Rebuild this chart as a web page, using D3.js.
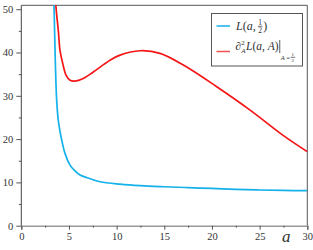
<!DOCTYPE html>
<html>
<head>
<meta charset="utf-8">
<script src="https://cdn.jsdelivr.net/npm/d3@7"></script>
<style>
  body { margin:0; background:#fff; }
  svg text { font-family: "Liberation Serif", "DejaVu Serif", serif; fill:#333; }
</style>
</head>
<body>
<div id="canvas"></div>
<script>
// values
var blueA = [3.30, 3.43, 3.55, 3.71, 3.88, 4.06, 4.24, 4.58, 5.11, 5.6, 6.16, 7.3, 8.26, 10.35, 12.5, 15, 17.5, 20, 22.5, 25, 27.5, 30];
var blueL = [62, 51, 39.5, 29, 24.3, 21.8, 19.8, 16.7, 14.0, 12.7, 11.7, 10.8, 10.15, 9.6, 9.25, 9.0, 8.8, 8.6, 8.4, 8.25, 8.15, 8.08];

var redA = [3.50, 3.62, 3.88, 4.06, 4.34, 4.69, 5.11, 5.63, 6.5, 7.55, 9.3, 10.36, 12.46, 14.55, 17.0, 20.5, 24.0, 27.5, 30];
var redL = [58, 51, 45.1, 40.5, 37.5, 34.8, 33.6, 33.4, 34.0, 35.5, 38.2, 39.4, 40.4, 39.8, 37.1, 32.1, 26.7, 20.8, 17.1];

var xMajor = [0, 5, 10, 15, 20, 25, 30];
var xMinor = [2.5, 7.5, 12.5, 17.5, 22.5, 27.5];
var yMajor = [0, 10, 20, 30, 40, 50];
var yMinor = [5, 15, 25, 35, 45];

var W = 313, H = 250;
var m = {t:5.3, r:5.7, b:24.3, l:21.3};
var w = W - m.l - m.r,
    h = H - m.t - m.b;
var serif = '"Liberation Serif", "DejaVu Serif", serif';

var svg = d3.select('#canvas').append('svg')
    .attr('width', W).attr('height', H);

var plot = svg.append('g')
    .attr('transform', 'translate(' + m.l + ',' + m.t + ')');

var scaleX = d3.scaleLinear().domain([0, 30]).range([0, w]);
var scaleY = d3.scaleLinear().domain([0, 50.9]).range([h, 0]);

plot.append('clipPath').attr('id', 'clip')
    .append('rect').attr('width', w).attr('height', h);

// frame top/right
plot.append('path')
    .attr('d', 'M0,0H' + w + 'V' + h)
    .attr('fill', 'none').attr('stroke', '#555').attr('stroke-width', 1);

var line = d3.line()
    .x(function(d){ return scaleX(d[0]); })
    .y(function(d){ return scaleY(d[1]); })
    .curve(d3.curveCatmullRom.alpha(0.5));

var blue = blueA.map(function(a, i){ return [a, blueL[i]]; });
var red = redA.map(function(a, i){ return [a, redL[i]]; });

var curves = plot.append('g').attr('clip-path', 'url(#clip)');
curves.append('path').datum(blue).attr('d', line)
    .attr('fill', 'none').attr('stroke', '#14b1ea').attr('stroke-width', 1.7);
curves.append('path').datum(red).attr('d', line)
    .attr('fill', 'none').attr('stroke', '#f41616').attr('stroke-width', 1.7);

// axes
var axisX = d3.axisBottom(scaleX).tickValues(xMajor).tickSize(4).tickPadding(3);
var axisXNode = plot.append('g').attr('transform', 'translate(0,' + h + ')').call(axisX)
    .attr('font-family', serif).attr('font-size', 10.5);
axisXNode.select('.domain').attr('stroke', '#999').attr('stroke-width', 1.6);
axisXNode.selectAll('.tick line').attr('stroke', '#555');
axisXNode.selectAll('text').attr('fill', '#333');
plot.append('g').attr('transform', 'translate(0,' + h + ')')
    .call(d3.axisBottom(scaleX).tickValues(xMinor).tickSize(2).tickFormat(''))
    .call(function(g){ g.select('.domain').remove(); g.selectAll('line').attr('stroke', '#555'); });

var axisY = d3.axisLeft(scaleY).tickValues(yMajor).tickSize(5).tickPadding(3);
var axisYNode = plot.append('g').call(axisY)
    .attr('font-family', serif).attr('font-size', 10.5);
axisYNode.select('.domain').attr('stroke', '#444').attr('d', 'M0,' + h + 'V0');
axisYNode.selectAll('.tick line').attr('stroke', '#555');
axisYNode.selectAll('text').attr('fill', '#333');
plot.append('g')
    .call(d3.axisLeft(scaleY).tickValues(yMinor).tickSize(2.5).tickFormat(''))
    .call(function(g){ g.select('.domain').remove(); g.selectAll('line').attr('stroke', '#555'); });

svg.append('text').attr('x', 282).attr('y', 242).attr('font-family', serif)
    .style('font-style', 'italic').style('font-size', '17px').text('a');

// legend
var lg = svg.append('g').attr('font-family', serif);
lg.append('rect').attr('x', 211.5).attr('y', 13.5).attr('width', 91).attr('height', 52.5)
    .attr('fill', '#fff').attr('stroke', '#555').attr('stroke-width', 1);
lg.append('line').attr('x1', 216.5).attr('x2', 230).attr('y1', 26).attr('y2', 26)
    .attr('stroke', '#14b1ea').attr('stroke-width', 1.5);
lg.append('line').attr('x1', 216.5).attr('x2', 230).attr('y1', 51.5).attr('y2', 51.5)
    .attr('stroke', '#f45050').attr('stroke-width', 1.5);

function endOf(sel) {
  var b = sel.node().getBBox();
  return b.x + b.width;
}

function frac(g, x, yMid, size) {
  g.append('text').attr('x', x).attr('y', yMid - 1).attr('text-anchor', 'middle')
      .attr('font-family', serif).style('font-size', size + 'px').text('1');
  g.append('line').attr('x1', x - 2.3).attr('x2', x + 2.3).attr('y1', yMid).attr('y2', yMid)
      .attr('stroke', '#333').attr('stroke-width', 0.7);
  g.append('text').attr('x', x).attr('y', yMid + size * 0.8 + 0.5).attr('text-anchor', 'middle')
      .attr('font-family', serif).style('font-size', size + 'px').text('2');
}

var t1 = lg.append('text').attr('x', 236).attr('y', 30).attr('font-family', serif).style('font-size', '12px');
t1.append('tspan').style('font-style', 'italic').text('L');
t1.append('tspan').text('(');
t1.append('tspan').style('font-style', 'italic').text('a');
t1.append('tspan').text(',');
var e1 = endOf(t1);
frac(lg, e1 + 4.5, 26.3, 7.5);
lg.append('text').attr('x', e1 + 7.5).attr('y', 30).attr('font-family', serif).style('font-size', '12px').text(')');

var t2 = lg.append('text').attr('x', 235.5).attr('y', 50).attr('font-family', serif).style('font-size', '11.5px');
t2.append('tspan').style('font-style', 'italic').text('∂');
t2.append('tspan').attr('dy', -5).style('font-size', '7px').text('2');
t2.append('tspan').attr('dx', -3.5).attr('dy', 8).style('font-size', '7px').style('font-style', 'italic').text('A');
t2.append('tspan').attr('dx', 0.5).attr('dy', -3).style('font-style', 'italic').text('L');
t2.append('tspan').text('(');
t2.append('tspan').style('font-style', 'italic').text('a');
t2.append('tspan').text(', ');
t2.append('tspan').style('font-style', 'italic').text('A');
t2.append('tspan').text(')');
var e2 = endOf(t2);
lg.append('line').attr('x1', e2 + 1).attr('x2', e2 + 1).attr('y1', 40).attr('y2', 53)
    .attr('stroke', '#333').attr('stroke-width', 0.8);
var t3 = lg.append('text').attr('x', e2 + 2).attr('y', 59.5).attr('font-family', serif).style('font-size', '6.5px');
t3.append('tspan').style('font-style', 'italic').text('A');
t3.append('tspan').text(' = ');
var e3 = endOf(t3);
frac(lg, e3 + 2.5, 57.3, 5);
</script>
</body>
</html>
